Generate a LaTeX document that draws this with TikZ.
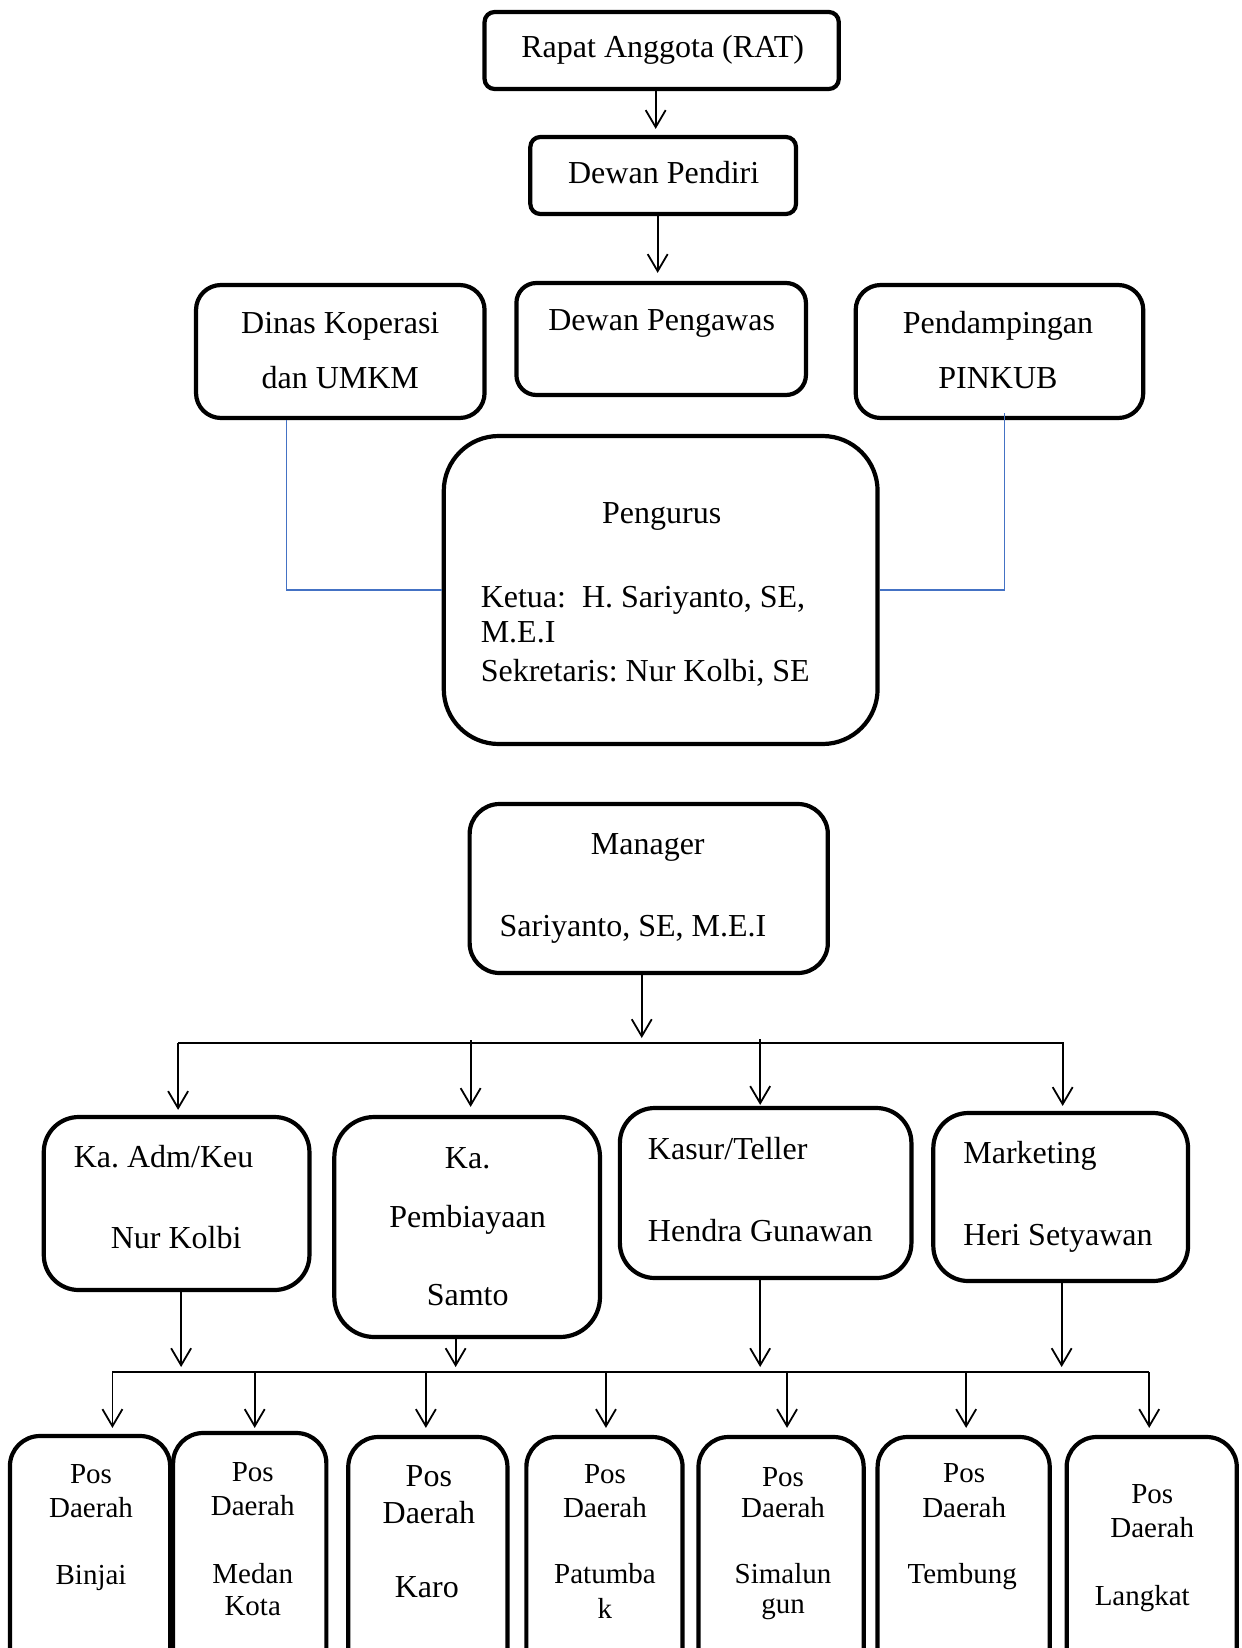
\documentclass[tikz,border=0pt]{standalone}
\usepackage{fontspec}
\setmainfont{Liberation Serif}
\frenchspacing
\usetikzlibrary{arrows.meta,fit}
\definecolor{wordblue}{RGB}{68,114,196}
\tikzset{
  box/.style={draw=black, line width=4.2pt, inner sep=0pt, rectangle},
  txt/.style={inner sep=0pt, font=\fontsize{32}{38}\selectfont},
  stxt/.style={inner sep=0pt, font=\fontsize{29}{34}\selectfont},
  arr/.style={draw=black, line width=1.8pt, -{Straight Barb[length=17pt,width=20pt,line width=1.8pt]}},
  ln/.style={draw=black, line width=1.8pt},
  blueline/.style={draw=wordblue, line width=1.5pt}
}
\begin{document}
\begin{tikzpicture}[x=0.995pt,y=-1pt]
\useasboundingbox (0,0) rectangle (1248.24,1648);
\fill[white] (0,0) rectangle (1248.24,1648);
\clip (0,0) rectangle (1248.24,1648);

% top boxes
\node[box, rounded corners=10pt, fit={(487,12) (843,89)}] (rat) {};
\node[box, rounded corners=10pt, fit={(533,137) (800,214)}] (dp) {};
\node[box, rounded corners=25pt, fit={(197,285) (487,418)}] (dinas) {};
\node[box, rounded corners=20pt, fit={(519,283) (810,395)}] (dpeng) {};
\node[box, rounded corners=25pt, fit={(860,285) (1149,418)}] (pend) {};
\node[box, rounded corners=55pt, fit={(446,436) (882,744)}] (peng) {};
\node[box, rounded corners=30pt, fit={(472,804) (832,973)}] (mgr) {};

% middle boxes
\node[box, rounded corners=35pt, fit={(44,1117) (311,1290)}] (adm) {};
\node[box, rounded corners=40pt, fit={(336,1117) (603,1337)}] (pemb) {};
\node[box, rounded corners=35pt, fit={(623,1108) (916,1278)}] (kasur) {};
\node[box, rounded corners=35pt, fit={(938,1113) (1194,1281)}] (mkt) {};

% bottom boxes
\node[box, rounded corners=30pt, fit={(10,1436) (171,1710)}] (p1) {};
\node[box, rounded corners=30pt, fit={(174,1433) (328,1710)}] (p2) {};
\node[box, rounded corners=30pt, fit={(350,1437) (510,1710)}] (p3) {};
\node[box, rounded corners=30pt, fit={(529,1437) (686,1710)}] (p4) {};
\node[box, rounded corners=30pt, fit={(702,1437) (868,1710)}] (p5) {};
\node[box, rounded corners=30pt, fit={(882,1437) (1055,1710)}] (p6) {};
\node[box, rounded corners=30pt, fit={(1072,1437) (1243,1710)}] (p7) {};

% texts top
\node[txt, anchor=base] (trat) at (666,58) {Rapat Anggota (RAT)};
\node[txt, anchor=base] (tdp) at (667,183) {Dewan Pendiri};
\node[txt, anchor=base] (tdin1) at (342,333) {Dinas Koperasi};
\node[txt, anchor=base] (tdin2) at (342,388) {dan UMKM};
\node[txt, anchor=base] (tdpe) at (665,330) {Dewan Pengawas};
\node[txt, anchor=base] (tpen1) at (1003,333) {Pendampingan};
\node[txt, anchor=base] (tpen2) at (1003,388) {PINKUB};
\node[txt, anchor=base] (tpg) at (665,523) {Pengurus};
\node[txt, anchor=base west] (tpg1) at (483,607) {Ketua:\ \ H. Sariyanto, SE,};
\node[txt, anchor=base west] (tpg2) at (483,642) {M.E.I};
\node[txt, anchor=base west] (tpg3) at (483,681) {Sekretaris: Nur Kolbi, SE};
\node[txt, anchor=base] (tmg1) at (651,854) {Manager};
\node[txt, anchor=base west] (tmg2) at (502,936) {Sariyanto, SE, M.E.I};

% texts middle
\node[txt, anchor=base west] (tad1) at (74,1167) {Ka. Adm/Keu};
\node[txt, anchor=base] (tad2) at (177,1248) {Nur Kolbi};
\node[txt, anchor=base] (tpb1) at (470,1168) {Ka.};
\node[txt, anchor=base] (tpb2) at (470,1227) {Pembiayaan};
\node[txt, anchor=base] (tpb3) at (470,1305) {Samto};
\node[txt, anchor=base west] (tks1) at (651,1159) {Kasur/Teller};
\node[txt, anchor=base west] (tks2) at (651,1241) {Hendra Gunawan};
\node[txt, anchor=base west] (tmk1) at (968,1163) {Marketing};
\node[txt, anchor=base west] (tmk2) at (968,1245) {Heri Setyawan};

% texts bottom
\node[stxt, anchor=base] at (91.5,1483) {Pos};
\node[stxt, anchor=base] at (91.5,1517) {Daerah};
\node[stxt, anchor=base] at (91.5,1584) {Binjai};
\node[stxt, anchor=base] at (254,1481) {Pos};
\node[stxt, anchor=base] at (254,1515) {Daerah};
\node[stxt, anchor=base] at (254,1583) {Medan};
\node[stxt, anchor=base] at (254,1615) {Kota};
\node[txt, anchor=base] at (431,1486) {Pos};
\node[txt, anchor=base] at (431,1523) {Daerah};
\node[txt, anchor=base] at (429,1597) {Karo};
\node[stxt, anchor=base] at (608,1483) {Pos};
\node[stxt, anchor=base] at (608,1517) {Daerah};
\node[stxt, anchor=base] at (608,1583) {Patumba};
\node[stxt, anchor=base] at (608,1618) {k};
\node[stxt, anchor=base] at (787,1486) {Pos};
\node[stxt, anchor=base] at (787,1517) {Daerah};
\node[stxt, anchor=base] at (787,1583) {Simalun};
\node[stxt, anchor=base] at (787,1613) {gun};
\node[stxt, anchor=base] at (969,1482) {Pos};
\node[stxt, anchor=base] at (969,1517) {Daerah};
\node[stxt, anchor=base] at (967,1583) {Tembung};
\node[stxt, anchor=base] at (1158,1503) {Pos};
\node[stxt, anchor=base] at (1158,1537) {Daerah};
\node[stxt, anchor=base] at (1148,1605) {Langkat};

% connectors top
\draw[arr, shorten >=6pt] ([xshift=-6pt]rat.south) -- ([xshift=-6pt]rat.south |- dp.north);
\draw[arr, shorten >=8pt] ([xshift=-5.5pt,yshift=4pt]dp.south) -- ([xshift=-5.5pt]dp.south |- dpeng.north);
\draw[blueline] ([xshift=-54pt]dinas.south) |- (peng.west);
\draw[blueline] ([xshift=5pt,yshift=7pt]pend.south) |- (peng.east);

% manager to bus
\coordinate (bA) at (179,1043);
\coordinate (bB) at (473,1043);
\coordinate (bC) at (764,1043);
\coordinate (bD) at (1068,1043);
\draw[arr, shorten >=5pt] ([xshift=-7pt]mgr.south) -- ([xshift=-7pt]mgr.south |- bA);
\draw[ln] (bA) -- (bD);
\draw[arr, shorten >=5pt] (bA) -- (bA |- adm.north);
\draw[arr, shorten >=8pt, shorten <=-3pt] (bB) -- (bB |- pemb.north);
\draw[arr, shorten >=1pt, shorten <=-4pt] (bC) -- (bC |- kasur.north);
\draw[arr, shorten >=5pt, shorten <=-1pt] (bD) -- (bD |- mkt.north);

% lower bus
\coordinate (c1) at (113,1372);
\coordinate (c2) at (256,1372);
\coordinate (c3) at (428,1372);
\coordinate (c4) at (609,1372);
\coordinate (c5) at (791,1372);
\coordinate (c6) at (971,1372);
\coordinate (c7) at (1155,1372);
\draw[arr, shorten >=5pt] ([xshift=4.5pt]adm.south) -- ([xshift=4.5pt]adm.south |- c1);
\draw[arr, shorten >=5pt] ([xshift=-11.5pt]pemb.south) -- ([xshift=-11.5pt]pemb.south |- c1);
\draw[arr, shorten >=5pt] ([xshift=-5.5pt,yshift=3pt]kasur.south) -- ([xshift=-5.5pt]kasur.south |- c1);
\draw[arr, shorten >=5pt] ([xshift=1pt]mkt.south) -- ([xshift=1pt]mkt.south |- c1);
\draw[ln] (c1) -- (c7);
\draw[arr, shorten >=6pt] (c1) -- (c1 |- p1.north);
\draw[arr, shorten >=3pt] (c2) -- (c2 |- p2.north);
\draw[arr, shorten >=7pt] (c3) -- (c3 |- p3.north);
\draw[arr, shorten >=7pt] (c4) -- (c4 |- p4.north);
\draw[arr, shorten >=7pt] (c5) -- (c5 |- p5.north);
\draw[arr, shorten >=7pt] (c6) -- (c6 |- p6.north);
\draw[arr, shorten >=7pt] (c7) -- (c7 |- p7.north);
\end{tikzpicture}
\end{document}
